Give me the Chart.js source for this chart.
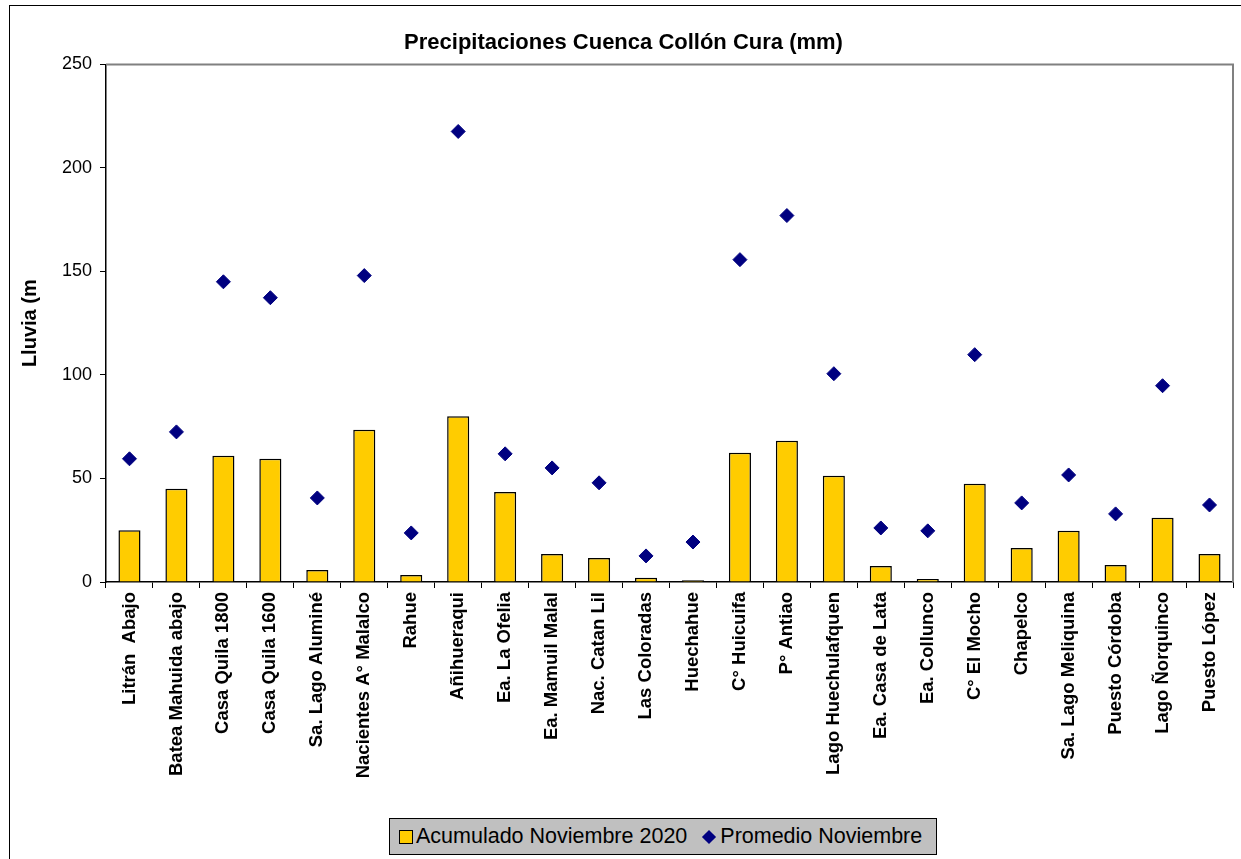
<!DOCTYPE html>
<html>
<head>
<meta charset="utf-8">
<script src="https://cdn.jsdelivr.net/npm/chart.js@4.4.1/dist/chart.umd.min.js"></script>
<style>
  html, body { margin: 0; padding: 0; background: #fff; }
  #wrap { position: relative; width: 1241px; height: 859px; overflow: hidden; }
  #legend {
    position: absolute; left: 389px; top: 818px; width: 546px; height: 35px;
    background: #c0c0c0; border: 1px solid #000;
    font: 21.5px "Liberation Sans", Arial, sans-serif; color: #000;
    display: flex; align-items: center; white-space: nowrap;
  }
  #legend .sq { display: inline-block; width: 12px; height: 12px; background: #ffcc00; border: 1px solid #000; margin: 0 3px 0 9px; }
  #legend .dm { display: inline-block; width: 10px; height: 10px; background: #000080; transform: rotate(45deg); margin: 0 6px 0 17px; }
</style>
</head>
<body>
<div id="wrap">
  <canvas id="chart" width="1241" height="859"></canvas>
  <div id="legend">
    <span class="sq"></span><span>Acumulado Noviembre 2020</span>
    <span class="dm"></span><span>Promedio Noviembre</span>
  </div>
</div>
<script>
const stations = [
  "Litrán  Abajo", "Batea Mahuida abajo", "Casa Quila 1800", "Casa Quila 1600",
  "Sa. Lago Aluminé", "Nacientes A° Malalco", "Rahue", "Añihueraqui",
  "Ea. La Ofelia", "Ea. Mamuil Malal", "Nac. Catan Lil", "Las Coloradas",
  "Huechahue", "C° Huicuifa", "P° Antiao", "Lago Huechulafquen",
  "Ea. Casa de Lata", "Ea. Collunco", "C° El Mocho", "Chapelco",
  "Sa. Lago Meliquina", "Puesto Córdoba", "Lago Ñorquinco", "Puesto López"
];
const acumulado2020 = [
  25, 45, 61, 59.5, 5.8, 73.5, 3.4, 80,
  43.5, 13.5, 11.6, 2, 0.8, 62.4, 68.2, 51.3,
  7.7, 1.5, 47.4, 16.4, 24.7, 8.2, 31, 13.5
];
const promedioNov = [
  59.5, 72.5, 145, 137.3, 40.6, 148, 23.7, 217.6,
  61.9, 55.1, 47.9, 12.6, 19.3, 155.7, 177, 100.6,
  26.1, 24.7, 109.8, 38.2, 51.7, 32.9, 94.8, 37.2
];
const yTicks = [0, 50, 100, 150, 200, 250];

const FONT = '"Liberation Sans", Arial, sans-serif';

// outer chart frame and the grey top/right edge of the plot area
const framePlugin = {
  id: "frame",
  beforeDraw(chart) {
    const ctx = chart.ctx;
    ctx.save();
    ctx.strokeStyle = "#000";
    ctx.lineWidth = 1;
    ctx.strokeRect(9.5, 5.5, 1300, 900);
    ctx.restore();
  },
  afterDatasetsDraw(chart) {
    const { ctx, chartArea: a } = chart;
    ctx.save();
    ctx.strokeStyle = "#808080";
    ctx.lineWidth = 2;
    ctx.beginPath();
    ctx.moveTo(a.left, a.top);
    ctx.lineTo(a.right, a.top);
    ctx.lineTo(a.right, a.bottom);
    ctx.stroke();
    ctx.restore();
  },
};

new Chart(document.getElementById("chart"), {
  data: {
    labels: stations,
    datasets: [
      {
        type: "line",
        label: "Promedio Noviembre",
        data: promedioNov,
        showLine: false,
        pointStyle: "rectRot",
        pointRadius: 7,
        pointBackgroundColor: "#000080",
        pointBorderColor: "#000080",
        pointBorderWidth: 1,
        order: 0,
      },
      {
        type: "bar",
        label: "Acumulado Noviembre 2020",
        data: acumulado2020,
        backgroundColor: "#ffcc00",
        borderColor: "#000",
        borderWidth: 1.5,
        categoryPercentage: 1,
        barPercentage: 0.47,
        order: 1,
      },
    ],
  },
  options: {
    responsive: false,
    animation: false,
    layout: { padding: { left: 12, right: 6, top: 0, bottom: 47 } },
    plugins: {
      legend: { display: false },
      tooltip: { enabled: false },
      title: {
        display: true,
        text: "Precipitaciones Cuenca Collón Cura (mm)",
        color: "#000",
        font: { family: FONT, size: 22, weight: "bold" },
        padding: { top: 30, bottom: 8 },
      },
    },
    scales: {
      x: {
        offset: true,
        grid: {
          offset: true,
          drawOnChartArea: false,
          tickLength: 6,
          color: "#000",
        },
        border: { color: "#000", width: 1.5 },
        ticks: {
          autoSkip: false,
          minRotation: 90,
          maxRotation: 90,
          padding: 4,
          color: "#000",
          font: { family: FONT, size: 18.5, weight: "bold" },
        },
        afterFit(scale) { scale.height = 230; },
      },
      y: {
        min: 0,
        max: 250,
        afterBuildTicks(scale) { scale.ticks = yTicks.map((v) => ({ value: v })); },
        grid: { drawOnChartArea: false, tickLength: 6, color: "#000" },
        border: { color: "#000", width: 1.5 },
        ticks: {
          padding: 8,
          color: "#000",
          font: { family: FONT, size: 18 },
        },
        title: {
          display: true,
          text: "Lluvia (m",
          color: "#000",
          font: { family: FONT, size: 20, weight: "bold" },
          padding: { top: 6, bottom: 0 },
        },
        afterFit(scale) { scale.width = 94; },
      },
    },
  },
  plugins: [framePlugin],
});
</script>
</body>
</html>
